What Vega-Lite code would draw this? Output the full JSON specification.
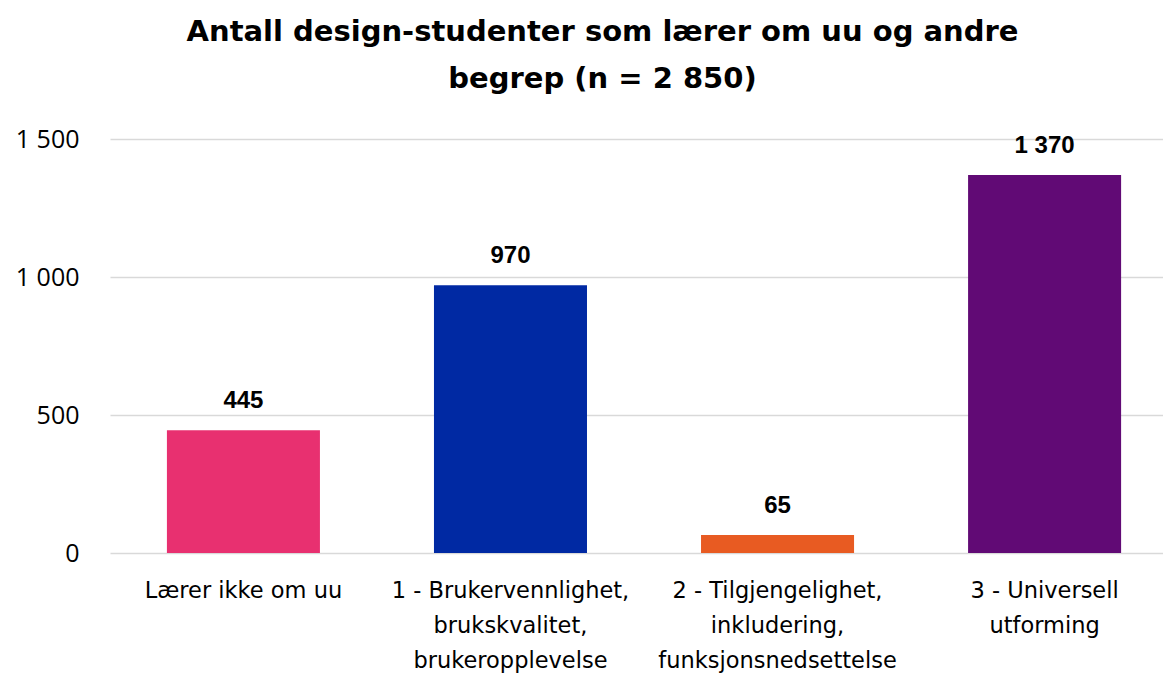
{
  "$schema": "https://vega.github.io/schema/vega-lite/v6.json",
  "width": 1053,
  "height": 414,
  "autosize": {"type": "none"},
  "padding": {"left": 110, "top": 139, "right": 0, "bottom": 122},
  "background": "white",
  "config": {
    "view": {"stroke": null},
    "locale": {"number": {"decimal": ",", "thousands": "\u00a0", "grouping": [3], "currency": ["", " kr"]}}
  },
  "title": {
    "text": ["Antall design-studenter som lærer om uu og andre", "begrep (n = 2 850)"],
    "font": "DejaVu Sans",
    "fontSize": 29,
    "fontWeight": "bold",
    "color": "#000000",
    "lineHeight": 47,
    "anchor": "middle",
    "frame": "group",
    "dx": -34,
    "offset": 33
  },
  "data": {
    "values": [
      {"kategori": "Lærer ikke om uu", "antall": 445, "farge": "a"},
      {"kategori": "1 - Brukervennlighet,|brukskvalitet,|brukeropplevelse", "antall": 970, "farge": "b"},
      {"kategori": "2 - Tilgjengelighet,|inkludering,|funksjonsnedsettelse", "antall": 65, "farge": "c"},
      {"kategori": "3 - Universell|utforming", "antall": 1370, "farge": "d"}
    ]
  },
  "encoding": {
    "x": {
      "field": "kategori",
      "type": "nominal",
      "sort": null,
      "scale": {"paddingInner": 0.427, "paddingOuter": 0.185, "align": 0.576, "round": false},
      "axis": {
        "title": null,
        "labelAngle": 0,
        "labelExpr": "split(datum.label, '|')",
        "labelFont": "DejaVu Sans",
        "labelFontSize": 22.5,
        "labelColor": "#000000",
        "labelLineHeight": 35,
        "labelPadding": 26,
        "labelLimit": 400,
        "ticks": false,
        "domain": false
      }
    },
    "y": {
      "field": "antall",
      "type": "quantitative",
      "scale": {"domain": [0, 1500]},
      "axis": {
        "title": null,
        "values": [0, 500, 1000, 1500],
        "format": ",d",
        "labelFont": "Open Sans",
        "labelFontSize": 25,
        "labelColor": "#000000",
        "labelPadding": 31,
        "ticks": false,
        "domain": false,
        "gridColor": "#d9d9d9",
        "gridWidth": 1.5
      }
    }
  },
  "layer": [
    {
      "mark": {"type": "bar"},
      "encoding": {
        "color": {
          "field": "farge",
          "type": "nominal",
          "scale": {"domain": ["a", "b", "c", "d"], "range": ["#E83070", "#0029A3", "#E85B22", "#610A75"]},
          "legend": null
        }
      }
    },
    {
      "mark": {"type": "text", "font": "Liberation Sans", "fontSize": 24, "fontWeight": "bold", "color": "#000000", "baseline": "alphabetic", "dy": -22},
      "encoding": {
        "text": {"field": "antall", "type": "quantitative", "format": ",d"}
      }
    }
  ]
}
